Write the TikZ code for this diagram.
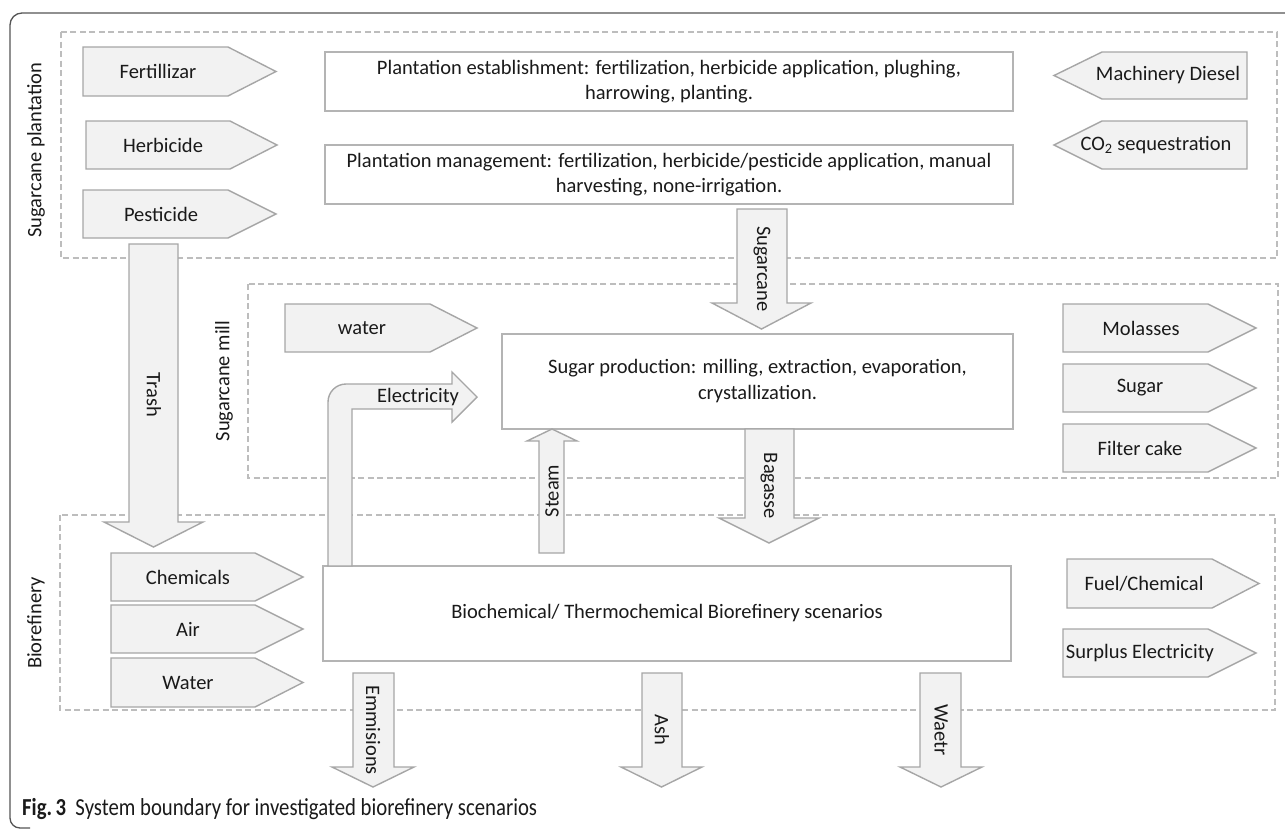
\documentclass[tikz,border=0pt]{standalone}
\usepackage{fontspec}
\setmainfont{Carlito}
\definecolor{fillg}{HTML}{F2F2F2}
\definecolor{arrg}{HTML}{A6A6A6}
\definecolor{boxg}{HTML}{B4B4B4}
\definecolor{dashg}{HTML}{BDBDBD}
\definecolor{frameg}{HTML}{555555}
\definecolor{txt}{HTML}{1A1A1A}
% right-pointing block arrow: name, xleft, xbody, xtip, ytop, ybot, text, textx
\newcommand\rarrow[8]{%
  \draw[arr] (#2,#5) -- (#3,#5) -- (#4,{(#5+#6)/2}) -- (#3,#6) -- (#2,#6) -- cycle;
  \node[lbl] (#1) at (#8,{(#5+#6)/2}) {#7};}
% left-pointing block arrow: name, xtip, xbody, xright, ytop, ybot, text, textx
\newcommand\larrow[8]{%
  \draw[arr] (#2,{(#5+#6)/2}) -- (#3,#5) -- (#4,#5) -- (#4,#6) -- (#3,#6) -- cycle;
  \node[lbl] (#1) at (#8,{(#5+#6)/2}) {#7};}
% down-pointing block arrow: xl, xr, ytop, ybase, headl, headr, ytip
\newcommand\dnarr[7]{%
  \draw[arr] (#1,#3) -- (#2,#3) -- (#2,#4) -- (#6,#4) -- ({(#5+#6)/2},#7) -- (#5,#4) -- (#1,#4) -- cycle;}
\begin{document}
\begin{tikzpicture}[x=1pt,y=-1pt,
  lbl/.style={font=\fontsize{20.5}{25}\selectfont, text=txt, inner sep=0pt},
  arr/.style={fill=fillg, draw=arrg, line width=1.4pt, line join=miter},
  box/.style={draw=boxg, line width=2.4pt, fill=white, inner sep=0pt, align=center,
              font=\fontsize{20.5}{24.5}\selectfont, text=txt},
  zone/.style={draw=dashg, line width=2pt, dash pattern=on 6pt off 3.5pt},
  zlbl/.style={lbl, rotate=90},
  vlbl/.style={lbl, rotate=-90}]
\useasboundingbox (0,0) rectangle (1285,828);
% outer frame
\draw[frameg, line width=1.3pt] (1290,13) -- (22,13) arc[start angle=270, end angle=180, radius=12]
  -- (10,818) arc[start angle=180, end angle=90, radius=10] -- (30,828);
% zones
\draw[zone] (61,32) rectangle (1277,258);
\draw[zone] (248,284) rectangle (1278,478);
\draw[zone] (60,515) rectangle (1275,710);
\node[zlbl] (zplant) at (36,150) {Sugarcane plantation};
\node[zlbl] (zmill) at (224,381) {Sugarcane mill};
\node[zlbl] (zbio) at (36,623) {Biorefinery};
% process boxes
\node[box, minimum width=688pt, minimum height=59pt] (est) at (669,81.5)
  {Plantation establishment: fertilization, herbicide application, plughing,\\ harrowing, planting.};
\node[box, minimum width=688pt, minimum height=59pt] (mgmt) at (669,174.5)
  {Plantation management: fertilization, herbicide/pesticide application, manual\\ harvesting, none-irrigation.};
\node[box, minimum width=511pt, minimum height=95pt, font=\fontsize{20.5}{26}\selectfont] (sp) at (757.5,381.5)
  {Sugar production: milling, extraction, evaporation,\\ crystallization.};
\node[box, minimum width=688pt, minimum height=95pt] (bio) at (667,613.5)
  {Biochemical/ Thermochemical Biorefinery scenarios};
% plantation inputs / outputs
\rarrow{fert}{83}{228}{276}{47}{96}{Fertillizar}{158}
\rarrow{herb}{86}{230}{277}{121}{169}{Herbicide}{163}
\rarrow{pest}{83}{228}{276}{190}{238}{Pesticide}{161}
\larrow{diesel}{1054}{1102}{1247}{52}{99}{Machinery Diesel}{1168}
\larrow{co2}{1054}{1102}{1247}{121}{169}{CO\textsubscript{2} sequestration}{1156}
% mill
\rarrow{water}{285}{430}{477}{304}{352}{water}{362}
\rarrow{mol}{1063}{1208}{1256}{304}{352}{Molasses}{1141}
\rarrow{sug}{1063}{1208}{1256}{364}{412}{Sugar}{1140}
\rarrow{filt}{1063}{1208}{1256}{424}{472}{Filter cake}{1140}
% biorefinery
\rarrow{chem}{111}{255}{303}{553}{601}{Chemicals}{188}
\rarrow{air}{111}{255}{303}{605}{653}{Air}{188}
\rarrow{wat}{111}{255}{303}{658}{707}{Water}{188}
\rarrow{fuel}{1067}{1212}{1259}{559}{608}{Fuel/Chemical}{1144}
\rarrow{surp}{1063}{1208}{1256}{629}{677}{Surplus Electricity}{1140}
% vertical flows
\dnarr{737}{787}{209}{303}{712}{811}{329}
\node[vlbl] (lcane) at (762,269) {Sugarcane};
\dnarr{129}{178}{244}{522}{104}{203}{547}
\node[vlbl] (ltrash) at (154,395) {Trash};
\dnarr{745}{794}{429}{518}{719}{819}{543}
\node[vlbl] (lbag) at (769,486) {Bagasse};
\dnarr{353}{394}{673}{767}{332}{414}{787}
\node[vlbl] (lemm) at (373,730) {Emmisions};
\dnarr{642}{682}{673}{767}{621}{702}{787}
\node[vlbl] (lash) at (662,730) {Ash};
\dnarr{920}{961}{673}{767}{900}{982}{787}
\node[vlbl] (lwaetr) at (941,730) {Waetr};
% steam (up)
\draw[arr] (539,553) -- (539,441) -- (527,441) -- (552,429) -- (577,441) -- (564,441) -- (564,553) -- cycle;
\node[zlbl] (lsteam) at (552,491) {Steam};
% electricity (bent)
\draw[arr] (328,566) -- (328,402) arc[start angle=180, end angle=270, radius=18]
  -- (452,384) -- (452,372) -- (477,397) -- (452,422) -- (452,409) -- (352,409) -- (352,566) -- cycle;
\node[lbl] (lelec) at (418,397) {Electricity};
% caption
\node[anchor=base west, inner sep=0pt, text=txt] (cap) at (22,815)
  {\fontsize{24.4}{28}\selectfont\scalebox{0.85}[1]{\textbf{Fig.\,3}\hspace{0.45em}System boundary for investigated biorefinery scenarios}};
\end{tikzpicture}
\end{document}
